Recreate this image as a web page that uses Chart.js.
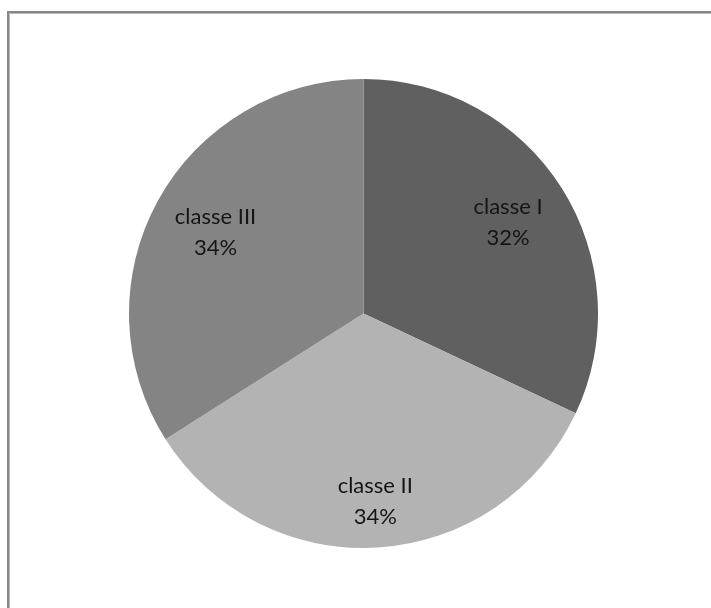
<!DOCTYPE html>
<html>
<head>
<meta charset="utf-8">
<script src="https://cdn.jsdelivr.net/npm/chart.js@4/dist/chart.umd.min.js"></script>
<style>
  body { margin: 0; background: #fff; width: 711px; height: 608px; overflow: hidden; position: relative; }
  #frame {
    position: absolute; left: 7px; top: 11px; right: 0; bottom: 0;
    border-top: 2px solid #878787; border-left: 2px solid #878787;
    box-shadow: inset 1px 1px 0 #b8b8b8;
  }
  #wrap { position: absolute; left: 128.5px; top: 79px; width: 469px; height: 469px; }
</style>
</head>
<body>
<div id="frame"></div>
<div id="wrap"><canvas id="pieChart" width="469" height="469"></canvas></div>
<script>
const categories = ["classe I", "classe II", "classe III"];
const shares = [32, 34, 34];
const sliceColors = ["#606060", "#b3b3b3", "#848484"];

// where each label sits, as a fraction of the radius
const labelRadius = [0.73, 0.80, 0.72];

const pieLabels = {
    id: 'pieLabels',
    afterDatasetsDraw(chart) {
        const ctx = chart.ctx;
        const arcs = chart.getDatasetMeta(0).data;
        ctx.save();
        ctx.font = '22px Lato';
        ctx.fillStyle = '#151515';
        ctx.textAlign = 'center';
        ctx.textBaseline = 'middle';
        arcs.forEach((arc, i) => {
            const p = arc.getProps(['x', 'y', 'startAngle', 'endAngle', 'outerRadius']);
            const mid = (p.startAngle + p.endAngle) / 2;
            const r = p.outerRadius * labelRadius[i];
            const cx = p.x + Math.cos(mid) * r;
            const cy = p.y + Math.sin(mid) * r;
            ctx.fillText(categories[i], cx, cy - 15);
            ctx.fillText(shares[i] + '%', cx, cy + 16);
        });
        ctx.restore();
    }
};

const ctx = document.getElementById('pieChart').getContext('2d');
const myChart = new Chart(ctx, {
    type: 'pie',
    data: {
        labels: categories,
        datasets: [{
            data: shares,
            backgroundColor: sliceColors,
            borderWidth: 0
        }]
    },
    options: {
        responsive: false,
        animation: false,
        plugins: {
            legend: { display: false },
            tooltip: { enabled: false }
        }
    },
    plugins: [pieLabels]
});
</script>
</body>
</html>
